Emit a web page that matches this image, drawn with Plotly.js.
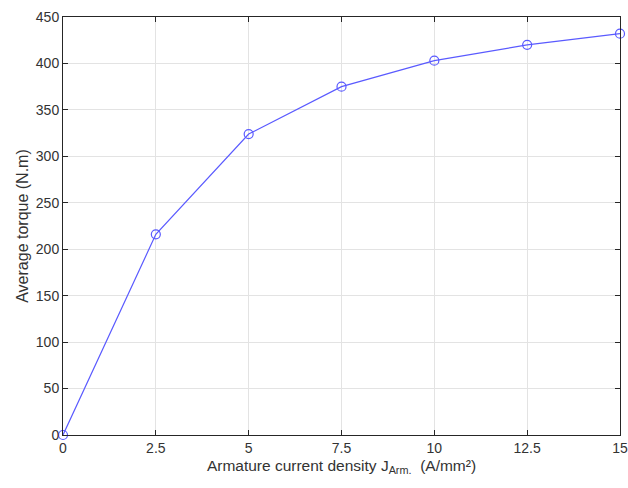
<!DOCTYPE html>
<html><head><meta charset="utf-8">
<script src="https://cdn.plot.ly/plotly-3.0.1.min.js"></script>
<style>html,body{margin:0;padding:0;background:#fff}</style>
</head><body>
<div id="chart" style="width:628px;height:488px"></div>
<script>
const currentDensity = [0, 2.5, 5, 7.5, 10, 12.5, 15];
const avgTorque = [0, 216, 324, 375, 403, 420, 432];
const xTicks = [0, 2.5, 5, 7.5, 10, 12.5, 15];
const xTickLabels = ['0', '2.5', '5', '7.5', '10', '12.5', '15'];
const yTicks = [0, 50, 100, 150, 200, 250, 300, 350, 400, 450];

const axisCommon = {
  showline: true, linecolor: '#262626', linewidth: 1, mirror: 'ticks',
  ticks: 'inside', ticklen: 5, tickcolor: '#262626', tickwidth: 1,
  showgrid: true, gridcolor: '#e3e3e3', gridwidth: 1, zeroline: false,
  tickfont: {family: 'Liberation Sans, Arial, sans-serif', size: 14, color: '#333333'}
};

Plotly.newPlot('chart', [{
  x: currentDensity, y: avgTorque, type: 'scatter', mode: 'lines+markers',
  line: {color: 'rgb(90,90,255)', width: 1.2},
  marker: {symbol: 'circle-open', size: 9, color: 'rgb(90,90,255)', line: {width: 1.2}},
  cliponaxis: false, hoverinfo: 'none'
}], {
  width: 628, height: 488,
  margin: {l: 63, r: 8, t: 17, b: 53},
  paper_bgcolor: '#fff', plot_bgcolor: '#fff',
  showlegend: false,
  xaxis: Object.assign({}, axisCommon, {
    range: [0, 15], tickvals: xTicks, ticktext: xTickLabels,
    title: {text: 'Armature current density J<sub>Arm.</sub>  (A/mm²)', standoff: 5,
      font: {family: 'Liberation Sans, Arial, sans-serif', size: 15.5, color: '#333333'}}
  }),
  yaxis: Object.assign({}, axisCommon, {
    range: [0, 450], tickvals: yTicks,
    title: {text: 'Average torque (N.m)', standoff: 3,
      font: {family: 'Liberation Sans, Arial, sans-serif', size: 16, color: '#333333'}}
  })
}, {displayModeBar: false, staticPlot: true});
</script>
</body></html>
